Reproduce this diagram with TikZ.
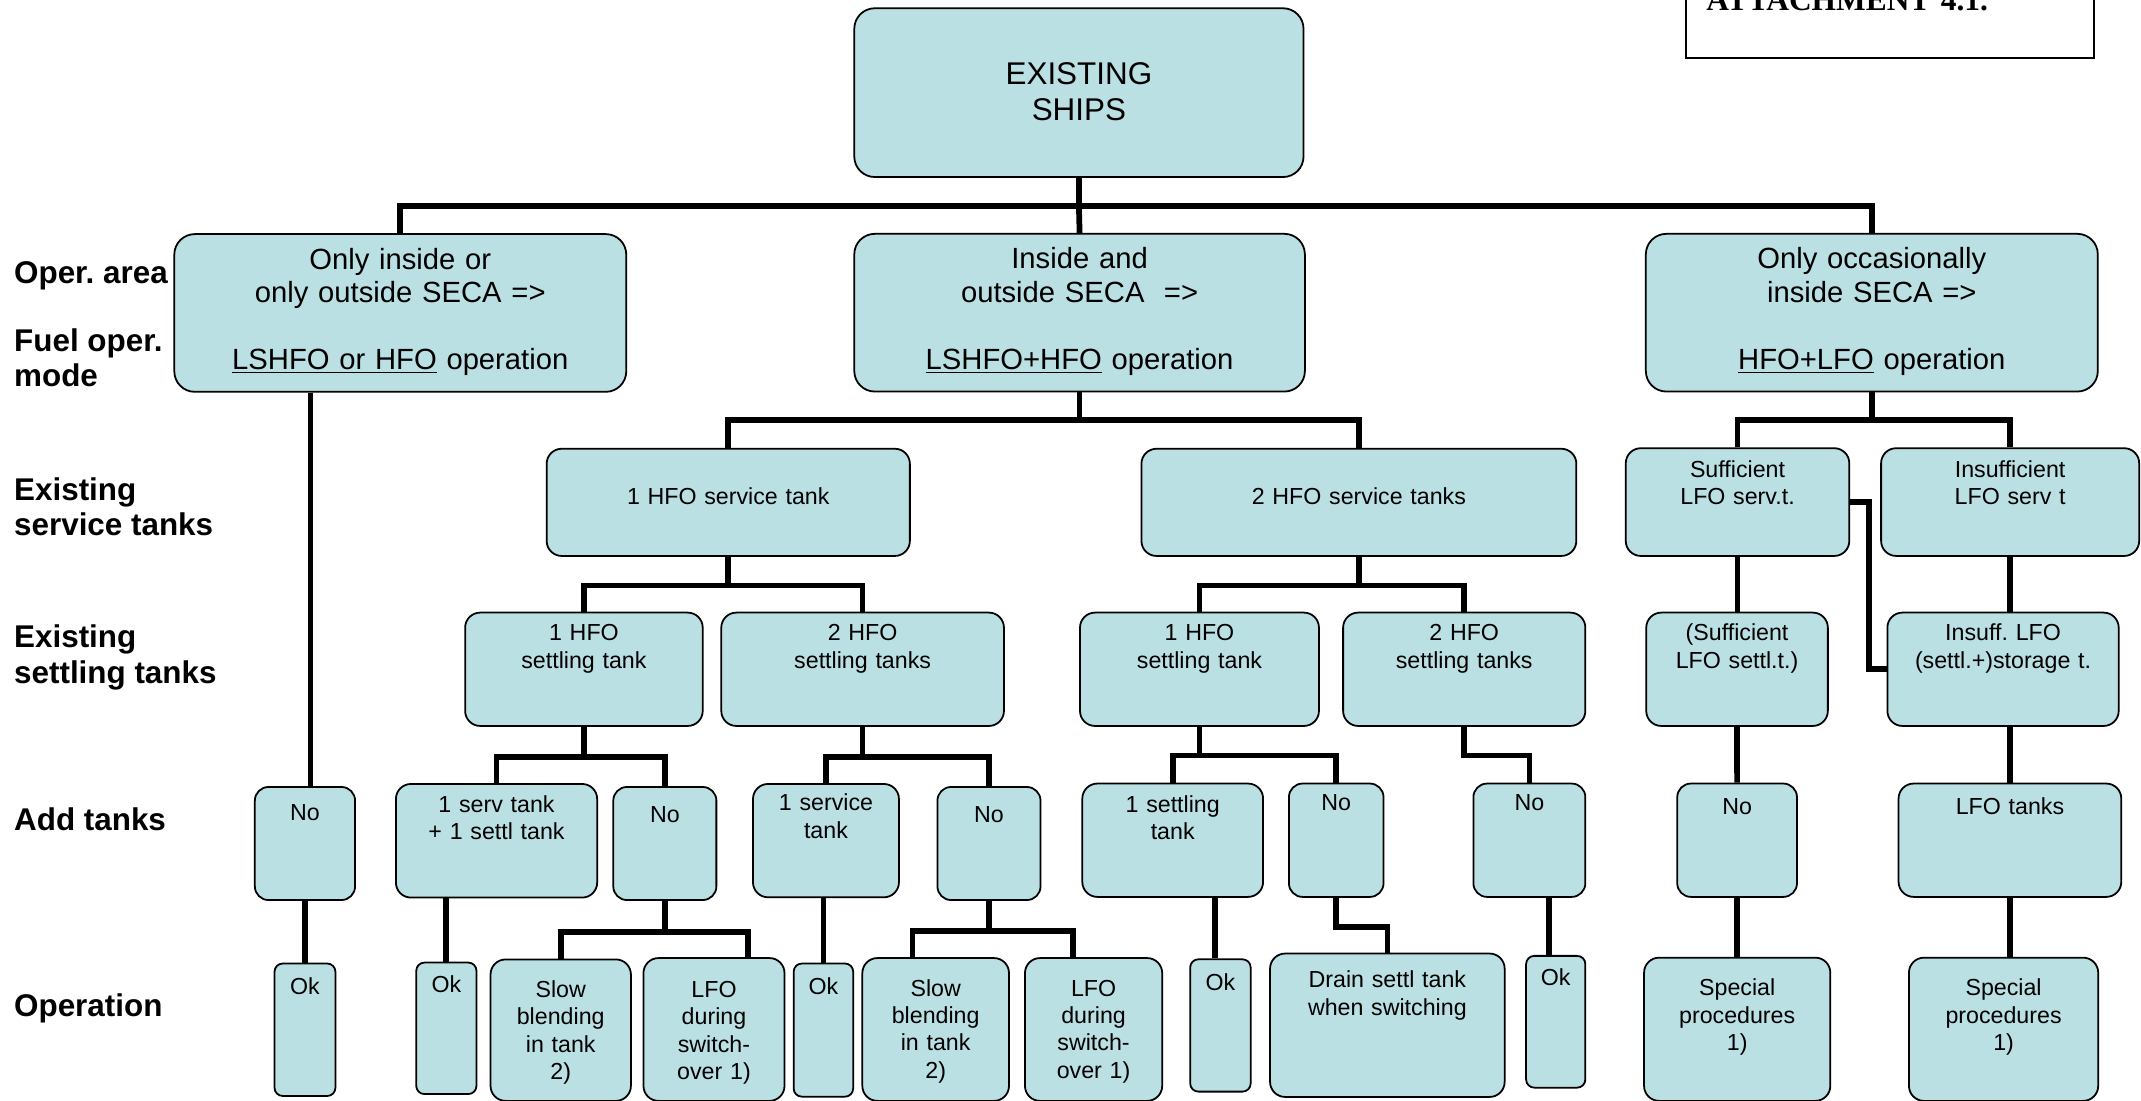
\documentclass[tikz,border=0pt]{standalone}
\usepackage{fontspec}
\setmainfont{Liberation Sans}
\newfontfamily\attachfont{Liberation Serif}
\definecolor{boxfill}{RGB}{186,224,227}
\frenchspacing

\tikzset{every picture/.style={line width=0.75pt}}
\tikzset{
  cell/.style n args={3}{draw=black, line width=1.3pt, fill=boxfill, rounded corners=11pt, anchor=north west, inner sep=0pt, align=center, text width=#1pt, text height=#2pt, text depth=#3pt, font=\fontsize{17}{20}\selectfont},
  bigcell/.style={rounded corners=15pt, font=\fontsize{21.4}{24.6}\selectfont},
  okcell/.style={rounded corners=6pt},
  conn/.style={line width=4.2pt},
  rowlbl/.style={anchor=base west, inner sep=0pt, align=left, font=\bfseries\fontsize{23}{26}\selectfont},
}

\begin{document}
\begin{tikzpicture}[x=1pt,y=1pt,yscale=-1,xscale=1]
		\useasboundingbox (0,0) rectangle (1568,806);

		%Attachment box, cut at the top
		\node [draw, line width=1.5pt, anchor=north west, inner xsep=15pt, inner ysep=0pt, text width=269pt, align=left, text height=27.3pt, text depth=34.2pt, font=\attachfont\bfseries\fontsize{23}{27}\selectfont] (attach) at (1234,-20) {ATTACHMENT 4.1.};

		%Row labels (base = last line)
		\node [rowlbl] (lblarea) at (10,207.4) {Oper. area};
		\node [rowlbl] (lblmode) at (10,283.4) {Fuel oper.\\mode};
		\node [rowlbl] (lblserv) at (10,392.5) {Existing\\service tanks};
		\node [rowlbl] (lblsettl) at (10,500.5) {Existing\\settling tanks};
		\node [rowlbl] (lbladd) at (10,608.5) {Add tanks};
		\node [rowlbl] (lbloper) at (10,744.5) {Operation};

		%Top and operating area
		\node [cell={329}{55.6}{68}, bigcell, font=\fontsize{23}{26.4}\selectfont] (ships) at (625,5.4) {EXISTING\\SHIPS};
		\node [cell={331}{25.7}{89.8}, bigcell] (only) at (127,170.8) {Only inside or\\only outside SECA =>\\[24.6pt]\underline{LSHFO or HFO} operation};
		\node [cell={330}{25.7}{89.8}, bigcell] (both) at (625,170.6) {Inside and\\outside SECA~ =>\\[24.6pt]\underline{LSHFO+HFO} operation};
		\node [cell={331}{25.7}{89.8}, bigcell] (occas) at (1204.7,170.6) {Only occasionally\\inside SECA =>\\[24.6pt]\underline{HFO+LFO} operation};

		%Existing service tanks
		\node [cell={266}{41}{37.5}] (hfoserv1) at (399.7,328) {1 HFO service tank};
		\node [cell={318.5}{41}{37.5}] (hfoserv2) at (835.3,328) {2 HFO service tanks};
		\node [cell={163.7}{21.5}{57.4}] (lfosuff) at (1190,327.6) {Sufficient\\LFO serv.t.};
		\node [cell={189}{21.5}{57.4}] (lfoinsuff) at (1377,327.6) {Insufficient\\LFO serv t};

		%Existing settling tanks
		\node [cell={174}{20.7}{62.3}] (lset1) at (340,448) {1 HFO\\settling tank};
		\node [cell={207}{20.7}{62.3}] (lset2) at (527.6,448) {2 HFO\\settling tanks};
		\node [cell={175}{20.7}{62.3}] (rset1) at (790.3,448) {1 HFO\\settling tank};
		\node [cell={177.4}{20.7}{62.3}] (rset2) at (983,448) {2 HFO\\settling tanks};
		\node [cell={133}{20.7}{62.3}] (suffsettl) at (1205,448) {(Sufficient\\LFO settl.t.)};
		\node [cell={169.4}{20.7}{62.3}] (insuffstor) at (1381.6,448) {Insuff. LFO\\(settl.+)storage t.};

		%Add tanks
		\node [cell={73.4}{24.3}{58.5}, rounded corners=10pt] (add1) at (186,575.7) {No};
		\node [cell={147.4}{21}{62.2}] (add2) at (289.3,573.5) {1 serv tank\\+ 1 settl tank};
		\node [cell={75.5}{26}{56.8}, rounded corners=10pt] (add3) at (448.5,575.7) {No};
		\node [cell={106.9}{19.7}{63.3}] (add4) at (550.8,573.5) {1 service\\tank};
		\node [cell={75.5}{26}{56.8}, rounded corners=10pt] (add5) at (685.9,575.7) {No};
		\node [cell={132.4}{21.3}{61.7}] (add6) at (792,573.2) {1 settling\\tank};
		\node [cell={69.3}{20}{63}, rounded corners=10pt] (add7) at (943.3,573.2) {No};
		\node [cell={82}{20}{63}, rounded corners=10pt] (add8) at (1078.4,573.2) {No};
		\node [cell={87.7}{23}{60}, rounded corners=10pt] (add9) at (1227.7,573.2) {No};
		\node [cell={163.1}{22.5}{60.5}] (add10) at (1389.8,573.2) {LFO tanks};

		%Operation
		\node [cell={44.6}{22.5}{74.5}, okcell] (op1) at (200.4,705) {Ok};
		\node [cell={44.1}{22}{74.3}, okcell] (op2) at (304.2,704.3) {Ok};
		\node [cell={102.8}{28}{75.6}] (op3) at (358.6,702) {Slow\\blending\\in tank\\2)};
		\node [cell={103.3}{29}{75.6}] (op4) at (470.6,701) {LFO\\during\\switch-\\over 1)};
		\node [cell={43.6}{22.5}{75}, okcell] (op5) at (580.6,705) {Ok};
		\node [cell={107.4}{28}{76.6}] (op6) at (630.9,701) {Slow\\blending\\in tank\\2)};
		\node [cell={100.5}{28}{76.6}] (op7) at (750,701) {LFO\\during\\switch-\\over 1)};
		\node [cell={44.3}{23}{73.9}, okcell] (op8) at (871,701.9) {Ok};
		\node [cell={171.8}{25}{80}] (op9) at (929.5,697.7) {Drain settl tank\\when switching};
		\node [cell={43.4}{22}{74.5}, okcell] (op10) at (1117,699.4) {Ok};
		\node [cell={136.4}{28}{76.9}] (op11) at (1203.4,700.7) {Special\\procedures\\1)};
		\node [cell={138.6}{28}{76.9}] (op12) at (1397.4,700.7) {Special\\procedures\\1)};

		%Connectors
		\draw [conn] (ships.south) -- ++(0,20.4) coordinate (k0);
		\draw [conn] (only.north) |- (k0) -| (occas.north);
		\draw [conn] (k0) -- (both.north);
		\draw [conn] (both.south) -- ++(0,20) coordinate (k1);
		\draw [conn] (hfoserv1.north) |- (k1) -| (hfoserv2.north);
		\draw [conn] (occas.south) -- ++(0,20) coordinate (k2);
		\draw [conn] (lfosuff.north) |- (k2) -| (lfoinsuff.north);
		\draw [conn] ([xshift=4pt]add1.north |- only.south) -- ([xshift=4pt]add1.north);

		\draw [conn] (hfoserv1.south) -- ++(0,21) coordinate (k3);
		\draw [conn] (lset1.north) |- (k3) -| (lset2.north);
		\draw [conn] (hfoserv2.south) -- ++(0,21) coordinate (k4);
		\draw [conn] (rset1.north) |- (k4) -| (rset2.north);
		\draw [conn] (lfosuff.south) -- (lfosuff.south |- suffsettl.north);
		\draw [conn] (lfosuff.east) -- ++(14,0) |- (insuffstor.west);
		\draw [conn] (lfoinsuff.south) -- (lfoinsuff.south |- insuffstor.north);

		\draw [conn] (lset1.south) -- ++(0,22) coordinate (k5);
		\draw [conn] (add2.north) |- (k5) -| (add3.north);
		\draw [conn] (lset2.south) -- ++(0,22) coordinate (k6);
		\draw [conn] (add4.north) |- (k6) -| (add5.north);
		\draw [conn] (rset1.south) -- ++(0,21) coordinate (k7);
		\draw [conn] (add6.north) |- (k7) -| (add7.north);
		\draw [conn] (rset2.south) -- ++(0,21) -| (add8.north);
		\draw [conn] (suffsettl.south) -- (add9.north);
		\draw [conn] (add10.north |- insuffstor.south) -- (add10.north);

		\draw [conn] (add1.south) -- (op1.north);
		\draw [conn] (op2.north |- add2.south) -- (op2.north);
		\draw [conn] (add3.south) -- ++(0,22.5) coordinate (k8);
		\draw [conn] (op3.north) |- (k8) -| ([xshift=25pt]op4.north);
		\draw [conn] (op5.north |- add4.south) -- (op5.north);
		\draw [conn] (add5.south) -- ++(0,22) coordinate (k9);
		\draw [conn] ([xshift=-17pt]op6.north) |- (k9) -| ([xshift=-15pt]op7.north);
		\draw [conn] ([xshift=-4pt]op8.north |- add6.south) -- ([xshift=-4pt]op8.north);
		\draw [conn] (add7.south) -- ++(0,21.5) -| (op9.north);
		\draw [conn] ([xshift=-5pt]op10.north |- add8.south) -- ([xshift=-5pt]op10.north);
		\draw [conn] (add9.south) -- (add9.south |- op11.north);
		\draw [conn] (add10.south) -- (add10.south |- op12.north);

\end{tikzpicture}
\end{document}
